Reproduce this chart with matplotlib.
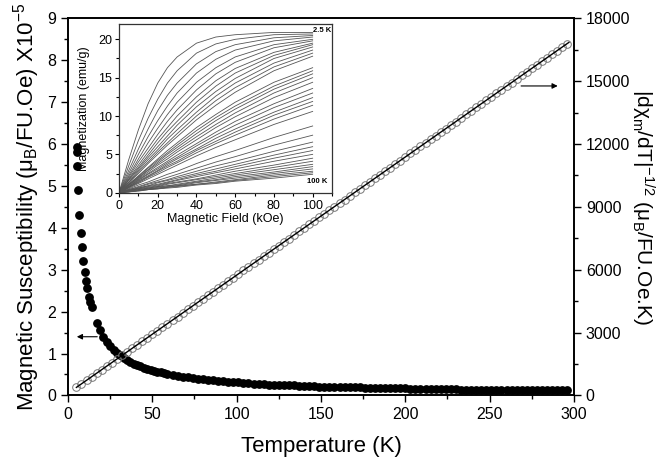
import matplotlib
matplotlib.use('Agg')
import matplotlib.pyplot as plt
from matplotlib.ticker import MultipleLocator

plt.rcParams['font.family'] = ['Liberation Sans', 'DejaVu Sans']
plt.rcParams['mathtext.default'] = 'regular'

# susceptibility (filled circles), x10^-5 muB/FU.Oe
chi_T = [5.2, 5.2, 5.2, 5.8, 6.7, 7.5, 8.1, 9.1, 10.1, 10.7, 11.5, 12.3, 13.0, 14.0,
         17, 19, 21, 23, 25, 27, 29, 31, 33, 35, 37, 39, 41, 43, 45, 47, 49, 51, 53, 55, 57, 59,
         62, 65, 68, 71, 74, 77, 80, 83, 86, 89, 92, 95, 98, 101, 104, 107, 110, 113, 116, 119,
         122, 125, 128, 131, 134, 137, 140, 143, 146, 149, 152, 155, 158, 161, 164, 167, 170, 173,
         176, 179, 182, 185, 188, 191, 194, 197, 200, 203, 206, 209, 212, 215, 218, 221, 224, 227,
         230, 233, 236, 239, 242, 245, 248, 251, 254, 257, 260, 263, 266, 269, 272, 275, 278, 281,
         284, 287, 290, 293, 296]
chi = [5.94, 5.82, 5.48, 4.90, 4.31, 3.87, 3.53, 3.21, 2.95, 2.74, 2.56, 2.36, 2.24, 2.10,
       1.73, 1.55, 1.40, 1.28, 1.18, 1.09, 1.02, 0.96, 0.90, 0.85, 0.80, 0.76, 0.73, 0.69, 0.66,
       0.64, 0.61, 0.59, 0.57, 0.55, 0.53, 0.51,
       0.49, 0.47, 0.45, 0.43, 0.41, 0.40, 0.38, 0.37, 0.36, 0.35, 0.34, 0.33, 0.32, 0.31, 0.30,
       0.29, 0.28, 0.28, 0.27, 0.26, 0.26, 0.25, 0.25, 0.24, 0.24, 0.23, 0.23, 0.22, 0.22, 0.21,
       0.21, 0.21, 0.20, 0.20, 0.20, 0.19, 0.19, 0.19, 0.18, 0.18, 0.18, 0.18, 0.17, 0.17, 0.17,
       0.17, 0.17, 0.16, 0.16, 0.16, 0.16, 0.15, 0.15, 0.15, 0.15, 0.15, 0.15, 0.14, 0.14, 0.14,
       0.14, 0.14, 0.14, 0.14, 0.13, 0.13, 0.13, 0.13, 0.13, 0.13, 0.13, 0.13, 0.12, 0.12, 0.12,
       0.12, 0.12, 0.12, 0.12]

# |dchi/dT|^-1/2 (open circles) and its linear fit
inv_T = [5, 8, 11, 14, 17, 20, 23, 26, 29, 32, 35, 38, 41, 44, 47, 50, 53, 56, 59, 62, 65, 68,
         71, 74, 77, 80, 83, 86, 89, 92, 95, 98, 101, 104, 107, 110, 113, 116, 119, 122, 125,
         128, 131, 134, 137, 140, 143, 146, 149, 152, 155, 158, 161, 164, 167, 170, 173, 176,
         179, 182, 185, 188, 191, 194, 197, 200, 203, 206, 209, 212, 215, 218, 221, 224, 227,
         230, 233, 236, 239, 242, 245, 248, 251, 254, 257, 260, 263, 266, 269, 272, 275, 278,
         281, 284, 287, 290, 293, 296]
inv_val = [382, 551, 720, 890, 1059, 1228, 1397, 1566, 1736, 1905, 2074, 2243, 2412, 2582,
           2751, 2920, 3089, 3258, 3428, 3597, 3766, 3935, 4104, 4274, 4443, 4612, 4781, 4950,
           5120, 5289, 5458, 5627, 5796, 5966, 6135, 6304, 6473, 6642, 6812, 6981, 7150, 7319,
           7488, 7658, 7827, 7996, 8165, 8334, 8504, 8673, 8842, 9011, 9180, 9350, 9519, 9688,
           9857, 10026, 10196, 10365, 10534, 10703, 10872, 11042, 11211, 11380, 11549, 11718,
           11888, 12057, 12226, 12395, 12564, 12734, 12903, 13072, 13241, 13410, 13580, 13749,
           13918, 14087, 14256, 14426, 14595, 14764, 14933, 15102, 15272, 15441, 15610, 15779,
           15948, 16118, 16287, 16456, 16625, 16794]
fit_T = [5, 297]
fit_val = [382, 16850]

# inset: M(H) isotherms from 2.5 K (top) to 100 K (bottom)
field = [0, 5, 10, 15, 20, 25, 30, 40, 50, 60, 80, 100]
mag_curves = [
    [0, 4.3, 8.2, 11.6, 14.3, 16.3, 17.7, 19.5, 20.3, 20.6, 20.9, 20.9],
    [0, 3.5, 6.8, 9.7, 12.2, 14.3, 15.9, 18.2, 19.4, 20.0, 20.6, 20.7],
    [0, 2.9, 5.7, 8.3, 10.7, 12.7, 14.3, 16.8, 18.4, 19.3, 20.2, 20.5],
    [0, 2.5, 5.0, 7.3, 9.4, 11.3, 13.0, 15.6, 17.4, 18.6, 19.8, 20.3],
    [0, 2.2, 4.4, 6.5, 8.4, 10.2, 11.8, 14.4, 16.3, 17.7, 19.3, 20.0],
    [0, 2.0, 4.0, 5.8, 7.6, 9.3, 10.8, 13.4, 15.5, 17.0, 18.9, 19.8],
    [0, 1.8, 3.6, 5.3, 7.0, 8.5, 10.0, 12.5, 14.6, 16.2, 18.3, 19.5],
    [0, 1.7, 3.3, 4.9, 6.5, 8.0, 9.3, 11.8, 13.9, 15.6, 17.9, 19.3],
    [0, 1.6, 3.1, 4.6, 6.0, 7.4, 8.8, 11.2, 13.2, 14.9, 17.5, 19.0],
    [0, 1.4, 2.9, 4.3, 5.6, 7.0, 8.2, 10.5, 12.6, 14.3, 16.9, 18.6],
    [0, 1.3, 2.7, 4.0, 5.3, 6.5, 7.7, 10.0, 12.0, 13.7, 16.4, 18.2],
    [0, 1.3, 2.5, 3.8, 5.0, 6.2, 7.3, 9.5, 11.4, 13.1, 15.9, 17.8],
    [0, 1.1, 2.2, 3.3, 4.4, 5.5, 6.5, 8.5, 10.2, 11.8, 14.4, 16.3],
    [0, 1.1, 2.1, 3.2, 4.2, 5.2, 6.2, 8.1, 9.8, 11.3, 13.9, 15.9],
    [0, 1.0, 2.0, 3.0, 4.0, 5.0, 5.9, 7.7, 9.4, 10.9, 13.5, 15.5],
    [0, 1.0, 1.9, 2.9, 3.8, 4.7, 5.6, 7.3, 8.9, 10.4, 13.0, 15.0],
    [0, 0.9, 1.8, 2.7, 3.6, 4.4, 5.3, 6.9, 8.5, 9.9, 12.4, 14.4],
    [0, 0.8, 1.7, 2.5, 3.3, 4.1, 4.9, 6.4, 7.9, 9.3, 11.6, 13.6],
    [0, 0.8, 1.6, 2.4, 3.1, 3.9, 4.6, 6.1, 7.5, 8.8, 11.1, 13.0],
    [0, 0.7, 1.5, 2.2, 2.9, 3.7, 4.4, 5.7, 7.1, 8.3, 10.5, 12.4],
    [0, 0.7, 1.4, 2.1, 2.8, 3.5, 4.1, 5.5, 6.7, 7.9, 10.1, 11.9],
    [0, 0.7, 1.3, 2.0, 2.6, 3.3, 3.9, 5.2, 6.4, 7.5, 9.6, 11.4],
    [0, 0.6, 1.2, 1.8, 2.4, 3.0, 3.6, 4.8, 5.9, 6.9, 8.9, 10.6],
    [0, 0.5, 1.0, 1.4, 1.9, 2.4, 2.8, 3.8, 4.7, 5.5, 7.2, 8.7],
    [0, 0.4, 0.8, 1.2, 1.6, 2.0, 2.4, 3.2, 4.0, 4.7, 6.2, 7.5],
    [0, 0.4, 0.7, 1.1, 1.4, 1.7, 2.1, 2.8, 3.5, 4.1, 5.4, 6.6],
    [0, 0.3, 0.6, 0.9, 1.3, 1.6, 1.9, 2.5, 3.1, 3.7, 4.9, 6.0],
    [0, 0.3, 0.6, 0.9, 1.1, 1.4, 1.7, 2.3, 2.8, 3.4, 4.5, 5.5],
    [0, 0.3, 0.5, 0.8, 1.0, 1.3, 1.6, 2.1, 2.6, 3.1, 4.1, 5.0],
    [0, 0.2, 0.5, 0.7, 0.9, 1.2, 1.4, 1.8, 2.3, 2.8, 3.6, 4.5],
    [0, 0.2, 0.4, 0.6, 0.8, 1.1, 1.3, 1.7, 2.1, 2.5, 3.3, 4.1],
    [0, 0.2, 0.4, 0.6, 0.8, 0.9, 1.1, 1.5, 1.9, 2.3, 3.0, 3.7],
    [0, 0.2, 0.3, 0.5, 0.7, 0.9, 1.0, 1.4, 1.7, 2.1, 2.7, 3.4],
    [0, 0.2, 0.3, 0.5, 0.6, 0.8, 0.9, 1.3, 1.6, 1.9, 2.5, 3.1],
    [0, 0.1, 0.3, 0.4, 0.6, 0.7, 0.9, 1.1, 1.4, 1.7, 2.3, 2.8],
    [0, 0.1, 0.3, 0.4, 0.5, 0.7, 0.8, 1.1, 1.3, 1.6, 2.1, 2.6],
    [0, 0.1, 0.2, 0.4, 0.5, 0.6, 0.7, 1.0, 1.2, 1.5, 1.9, 2.4],
]

fig = plt.figure(figsize=(6.58, 4.63), dpi=100)
ax = fig.add_axes([0.1033, 0.146, 0.769, 0.8145])
ax2 = ax.twinx()

ax.plot(chi_T, chi, 'o', color='black', ms=5.3, zorder=3)
ax2.plot(inv_T, inv_val, 'o', mfc='none', mec='#777777', ms=5.5, mew=0.7)
ax2.plot(fit_T, fit_val, '-', color='black', lw=1)

ax.set_xlim(0, 300)
ax.set_ylim(0, 9)
ax2.set_ylim(0, 18000)
ax.xaxis.set_major_locator(MultipleLocator(50))
ax.xaxis.set_minor_locator(MultipleLocator(25))
ax.yaxis.set_major_locator(MultipleLocator(1))
ax.yaxis.set_minor_locator(MultipleLocator(0.5))
ax2.yaxis.set_major_locator(MultipleLocator(3000))
ax2.yaxis.set_minor_locator(MultipleLocator(1500))
for a in (ax, ax2):
    a.tick_params(which='major', direction='out', length=5, width=1, labelsize=11.5)
    a.tick_params(which='minor', direction='out', length=3, width=1)
    for s in a.spines.values():
        s.set_linewidth(1.2)

ax.set_xlabel('Temperature (K)', fontsize=16, labelpad=10)
ax.set_ylabel('Magnetic Susceptibility (μ$_B$/FU.Oe) X10$^{-5}$', fontsize=16, labelpad=4)
ax2.set_ylabel('|dχ$_m$/dT|$^{-1/2}$ (μ$_B$/FU.Oe.K)', fontsize=15, rotation=270,
               va='center', ha='center')
ax2.yaxis.set_label_coords(1.136, 0.5)

ax.annotate('', xy=(3.6, 1.4), xytext=(19, 1.4),
            arrowprops=dict(arrowstyle='-|>', color='black', lw=0.8, mutation_scale=8))
ax2.annotate('', xy=(292, 14770), xytext=(267, 14770),
             arrowprops=dict(arrowstyle='-|>', color='black', lw=0.8, mutation_scale=8))

# inset
ins = fig.add_axes([0.1809, 0.5838, 0.3237, 0.3644])
for curve in mag_curves:
    ins.plot(field, curve, '-', color='#555555', lw=0.6)
ins.set_xlim(0, 110)
ins.set_ylim(0, 22)
ins.xaxis.set_major_locator(MultipleLocator(20))
ins.xaxis.set_minor_locator(MultipleLocator(10))
ins.yaxis.set_major_locator(MultipleLocator(5))
ins.yaxis.set_minor_locator(MultipleLocator(2.5))
ins.tick_params(which='major', direction='out', length=3, width=0.8, labelsize=9, pad=2)
ins.tick_params(which='minor', direction='out', length=2, width=0.8)
for s in ins.spines.values():
    s.set_linewidth(0.9)
    s.set_color('#333333')
ins.set_xlabel('Magnetic Field (kOe)', fontsize=9, labelpad=1)
ins.set_ylabel('Magnetization (emu/g)', fontsize=9, labelpad=6)
ins.text(100.3, 21.1, '2.5 K', fontsize=5.5, fontweight='bold', va='center', ha='left')
ins.text(97, 1.4, '100 K', fontsize=5.5, fontweight='bold', va='center', ha='left')

fig.savefig('out.png', dpi=100)
